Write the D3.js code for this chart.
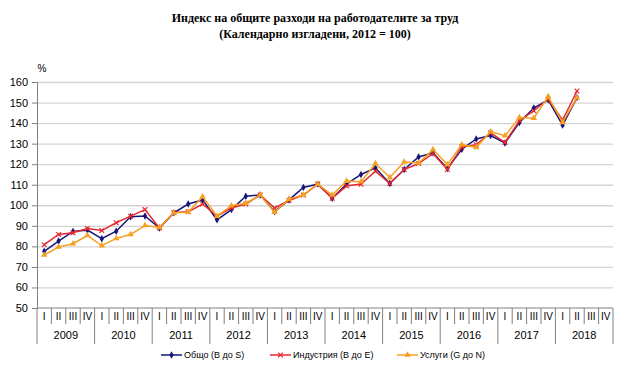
<!DOCTYPE html>
<html>
<head>
<meta charset="utf-8">
<script src="https://cdn.jsdelivr.net/npm/d3@7"></script>
<style>
  body { margin: 0; background: #fff; }
  svg { display: block; }
</style>
</head>
<body>
<div id="chart"></div>
<script>
// Chart data (quarterly, 2009 Q1 .. 2018 Q2)
const years = ["2009", "2010", "2011", "2012", "2013", "2014", "2015", "2016", "2017", "2018"];
const quarters = ["I", "II", "III", "IV"];
const yTicks = [50, 60, 70, 80, 90, 100, 110, 120, 130, 140, 150, 160];

const total = [77.6, 82.6, 87.3, 87.9, 83.7, 87.4, 94.4, 94.8, 88.9, 96.3,
  100.6, 102.6, 92.9, 97.9, 104.4, 105.0, 96.9, 102.6, 108.7, 110.3,
  103.4, 110.3, 115.0, 118.2, 110.6, 117.4, 123.5, 125.5, 117.9, 127.3,
  132.3, 133.9, 130.3, 140.3, 147.3, 151.3, 139.0, 152.4];
const industry = [80.8, 85.8, 86.6, 88.7, 87.7, 91.5, 94.7, 97.9, 88.9, 96.5,
  96.9, 100.6, 94.7, 98.7, 100.6, 105.0, 98.7, 102.3, 105.0, 110.3,
  103.4, 109.4, 110.3, 116.6, 110.6, 117.4, 120.3, 125.2, 117.4, 128.4,
  129.5, 135.2, 130.6, 141.1, 146.0, 151.6, 141.5, 155.6];
const services = [75.8, 79.7, 81.3, 85.3, 80.3, 83.9, 85.8, 90.2, 89.2, 96.3,
  96.6, 104.2, 94.7, 99.8, 101.0, 105.0, 96.6, 103.0, 105.0, 110.3,
  105.0, 111.8, 111.5, 120.3, 113.5, 121.1, 120.6, 127.1, 119.8, 129.5,
  128.2, 135.8, 133.9, 142.7, 142.4, 152.9, 140.3, 152.4];

const seriesNames = ["Общо (B до S)", "Индустрия (B до E)", "Услуги (G до N)"];

const width = 630;
const height = 380;
const margin = { top: 82, right: 17, bottom: 72, left: 37 };

const svg = d3.select("#chart")
  .append("svg")
  .attr("width", width)
  .attr("height", height);

// Categories: every quarter of every year
const cats = [];
years.forEach(y => quarters.forEach(q => cats.push(y + "-" + q)));

const x = d3.scaleBand()
  .domain(cats)
  .range([margin.left, width - margin.right]);

const y = d3.scaleLinear()
  .domain([50, 160])
  .range([height - margin.bottom, margin.top]);

const series = [
  { name: seriesNames[0], values: total, color: "#16167a", marker: "diamond" },
  { name: seriesNames[1], values: industry, color: "#e8282f", marker: "cross" },
  { name: seriesNames[2], values: services, color: "#f5a020", marker: "triangle" }
];

// Title
svg.append("text")
  .attr("x", 315).attr("y", 22)
  .attr("text-anchor", "middle")
  .style("font", "bold 12px 'Liberation Serif', 'Times New Roman', serif")
  .text("Индекс на общите разходи на работодателите за труд");
svg.append("text")
  .attr("x", 315).attr("y", 38)
  .attr("text-anchor", "middle")
  .style("font", "bold 12px 'Liberation Serif', 'Times New Roman', serif")
  .text("(Календарно изгладени, 2012 = 100)");

// Gridlines
svg.append("g")
  .attr("transform", `translate(${margin.left},0)`)
  .call(d3.axisLeft(y).tickValues(yTicks.slice(1)).tickSize(-(width - margin.left - margin.right)).tickFormat(""))
  .call(g => g.select(".domain").remove())
  .call(g => g.selectAll("line").attr("stroke", "#d4d4d4").attr("stroke-width", 1.3));

// Y axis
svg.append("g")
  .attr("transform", `translate(${margin.left},0)`)
  .call(d3.axisLeft(y).tickValues(yTicks).tickSize(5).tickPadding(4))
  .call(g => g.select(".domain").attr("stroke", "#808080"))
  .call(g => g.selectAll("line").attr("stroke", "#808080"))
  .call(g => g.selectAll("text")
    .style("font", "11px 'Liberation Sans', Arial, sans-serif")
    .attr("fill", "#000"));

svg.append("text")
  .attr("x", 42).attr("y", 72)
  .attr("text-anchor", "middle")
  .style("font", "10px 'Liberation Sans', Arial, sans-serif")
  .text("%");

// X axis (two level: quarters and years)
const y0 = y(50);
const xAxis = svg.append("g");
xAxis.append("line")
  .attr("x1", margin.left).attr("x2", width - margin.right)
  .attr("y1", y0).attr("y2", y0)
  .attr("stroke", "#808080");

xAxis.selectAll(".sep")
  .data(cats.concat(["end"]))
  .enter()
  .append("line")
  .attr("x1", (d, i) => i < cats.length ? x(d) : x.range()[1])
  .attr("x2", (d, i) => i < cats.length ? x(d) : x.range()[1])
  .attr("y1", y0)
  .attr("y2", (d, i) => i % 4 === 0 ? y0 + 36 : y0 + 16)
  .attr("stroke", "#808080");

xAxis.selectAll(".q")
  .data(cats)
  .enter()
  .append("text")
  .attr("x", d => x(d) + x.bandwidth() / 2)
  .attr("y", y0 + 12)
  .attr("text-anchor", "middle")
  .style("font", "10px 'Liberation Sans', Arial, sans-serif")
  .text((d, i) => quarters[i % 4]);

xAxis.selectAll(".yr")
  .data(years)
  .enter()
  .append("text")
  .attr("x", d => x(d + "-I") + x.bandwidth() * 2)
  .attr("y", y0 + 31)
  .attr("text-anchor", "middle")
  .style("font", "11px 'Liberation Sans', Arial, sans-serif")
  .text(d => d);

// Lines and markers
const line = d3.line()
  .x((d, i) => x(cats[i]) + x.bandwidth() / 2)
  .y(d => y(d));

function drawMarker(g, type, color, cx, cy) {
  if (type === "diamond") {
    g.append("path")
      .attr("d", d3.symbol().type(d3.symbolDiamond).size(16)())
      .attr("transform", `translate(${cx},${cy})`)
      .attr("fill", color);
  } else if (type === "cross") {
    g.append("path")
      .attr("d", d3.symbol().type(d3.symbolX).size(16)())
      .attr("transform", `translate(${cx},${cy})`)
      .attr("fill", "none")
      .attr("stroke", color)
      .attr("stroke-width", 1.2);
  } else {
    g.append("path")
      .attr("d", d3.symbol().type(d3.symbolTriangle).size(18)())
      .attr("transform", `translate(${cx},${cy})`)
      .attr("fill", color);
  }
}

series.forEach(s => {
  const g = svg.append("g");
  g.append("path")
    .datum(s.values)
    .attr("d", line)
    .attr("fill", "none")
    .attr("stroke", s.color)
    .attr("stroke-width", 1.5);
  s.values.forEach((v, i) => {
    drawMarker(g, s.marker, s.color, x(cats[i]) + x.bandwidth() / 2, y(v));
  });
});

// Legend
const legendX = [161, 270, 397];
series.forEach((s, i) => {
  const g = svg.append("g").attr("transform", `translate(${legendX[i]},355)`);
  g.append("line")
    .attr("x1", 0).attr("x2", 21)
    .attr("stroke", s.color)
    .attr("stroke-width", 1.5);
  drawMarker(g, s.marker, s.color, 10.5, 0);
  g.append("text")
    .attr("x", 23).attr("y", 3)
    .style("font", "9px 'Liberation Sans', Arial, sans-serif")
    .text(s.name);
});
</script>
</body>
</html>
